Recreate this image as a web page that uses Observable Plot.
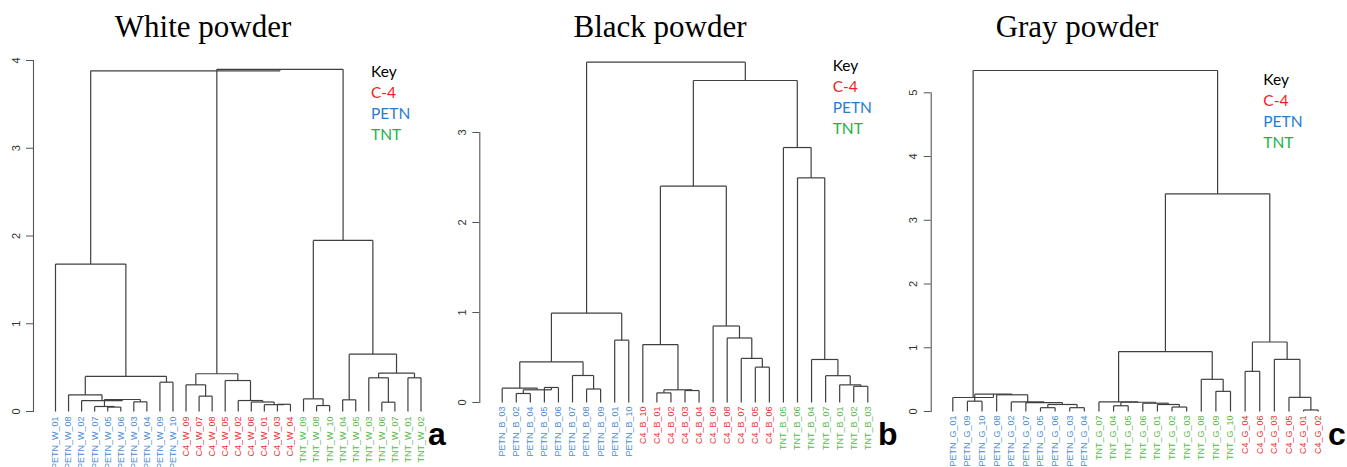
<!DOCTYPE html>
<html><head><meta charset="utf-8">
<script src="https://cdn.jsdelivr.net/npm/d3@7"></script>
<script src="https://cdn.jsdelivr.net/npm/@observablehq/plot@0.6"></script>
<style>
html,body{margin:0;padding:0;background:#fff;overflow:hidden;}
#root{position:relative;width:1347px;height:467px;}
.layer{position:absolute;left:0;top:0;}
.title{position:absolute;font-family:"Liberation Serif","Times New Roman",serif;font-size:31px;line-height:31px;color:#000;white-space:nowrap;transform:translateX(-50%);}
.key{position:absolute;font-family:Lato,"Open Sans",sans-serif;font-size:15.5px;line-height:21px;white-space:nowrap;}
.tag{position:absolute;font-family:"Liberation Sans",Arial,sans-serif;font-weight:bold;font-size:32px;line-height:32px;color:#000;}
</style></head><body><div id="root"></div>
<script>
// ---------- data ----------
const groups = ["C-4", "PETN", "TNT"];
const keyColors = ["#f21d1d", "#2a7bd0", "#1fb04a"];
const labelColors = ["#ef3030", "#4a8bd4", "#55b947"];
const titles = ["White powder", "Black powder", "Gray powder"];
const tags = ["a", "b", "c"];

// Panel a: White powder (leaf order as drawn)
const leavesA = ["PETN_W_01","PETN_W_08","PETN_W_02","PETN_W_07","PETN_W_05","PETN_W_06","PETN_W_03","PETN_W_04","PETN_W_09","PETN_W_10",
  "C4_W_09","C4_W_07","C4_W_08","C4_W_05","C4_W_02","C4_W_06","C4_W_01","C4_W_03","C4_W_04",
  "TNT_W_09","TNT_W_08","TNT_W_10","TNT_W_04","TNT_W_05","TNT_W_03","TNT_W_06","TNT_W_07","TNT_W_01","TNT_W_02"];
// merges: negative = leaf position, positive = earlier merge row (1-based)
const mergeA = [[-5,-6],[-4,1],[-7,-8],[2,3],[-3,4],[-2,5],[-9,-10],[6,7],[-1,8],
  [-18,-19],[-17,10],[-16,11],[-15,12],[-14,13],[-12,-13],[-11,15],[16,14],
  [-21,-22],[-20,18],[-23,-24],[-26,-27],[-25,21],[-28,-29],[22,23],[20,24],[19,25],
  [17,26],[9,27]];
const heightA = [0.05,0.057,0.11,0.137,0.125,0.19,0.334,0.40,1.68,
  0.082,0.078,0.108,0.125,0.353,0.175,0.304,0.43,
  0.068,0.144,0.133,0.106,0.384,0.384,0.437,0.653,1.95,
  3.90,3.882];

// Panel b: Black powder
const leavesB = ["PETN_B_03","PETN_B_02","PETN_B_04","PETN_B_05","PETN_B_06","PETN_B_07","PETN_B_08","PETN_B_09","PETN_B_01","PETN_B_10",
  "C4_B_10","C4_B_01","C4_B_02","C4_B_03","C4_B_04","C4_B_09","C4_B_08","C4_B_07","C4_B_05","C4_B_06",
  "TNT_B_05","TNT_B_06","TNT_B_04","TNT_B_07","TNT_B_01","TNT_B_02","TNT_B_03"];
const mergeB = [[-2,-3],[-4,-5],[1,2],[-1,3],[-7,-8],[-6,5],[4,6],[-9,-10],[7,8],
  [-12,-13],[-14,-15],[10,11],[-11,12],[-19,-20],[-18,14],[-17,15],[-16,16],[13,17],
  [-26,-27],[-25,19],[-24,20],[-23,21],[-22,22],[-21,23],
  [18,24],[9,25]];
const heightB = [0.10,0.167,0.141,0.159,0.15,0.30,0.452,0.693,0.993,
  0.107,0.133,0.141,0.644,0.393,0.49,0.717,0.85,2.404,
  0.18,0.196,0.298,0.478,2.496,2.833,
  3.578,3.781];

// Panel c: Gray powder
const leavesC = ["PETN_G_01","PETN_G_09","PETN_G_10","PETN_G_08","PETN_G_02","PETN_G_07","PETN_G_05","PETN_G_06","PETN_G_03","PETN_G_04",
  "TNT_G_07","TNT_G_04","TNT_G_05","TNT_G_06","TNT_G_01","TNT_G_02","TNT_G_03","TNT_G_08","TNT_G_09","TNT_G_10",
  "C4_G_04","C4_G_06","C4_G_03","C4_G_05","C4_G_01","C4_G_02"];
const mergeC = [[-2,-3],[-7,-8],[-9,-10],[2,3],[-6,4],[-5,5],[-4,6],[1,7],[-1,8],
  [-16,-17],[-15,10],[-14,11],[-12,-13],[13,12],[-11,14],[-19,-20],[-18,16],[15,17],
  [-21,-22],[-25,-26],[-24,20],[-23,21],[19,22],
  [18,23],[9,24]];
const heightC = [0.162,0.06,0.06,0.11,0.14,0.15,0.262,0.272,0.22,
  0.07,0.11,0.13,0.09,0.145,0.15,0.316,0.505,0.94,
  0.63,0.024,0.222,0.818,1.09,
  3.415,5.35];

const axisMax = [4, 3, 5];

// ---------- layout / style (page pixels) ----------
const frames = [
  {axis: 33, first: 55, last: 420.5, y0: 411, yTop: 60, labelDy: 5, title: 203, key: [371, 61], tag: [428, 418]},
  {axis: 479.3, first: 501.7, last: 867.3, y0: 402, yTop: 132, labelDy: 4, title: 660, key: [832.7, 54.5], tag: [878, 418]},
  {axis: 930.7, first: 952.3, last: 1317.7, y0: 411, yTop: 92.3, labelDy: 4, title: 1077, key: [1263.3, 68.5], tag: [1328, 418]}
];
const panels = [[leavesA, mergeA, heightA], [leavesB, mergeB, heightB], [leavesC, mergeC, heightC]];

function groupOf(name) {
  return name.startsWith("C4") ? "C-4" : name.startsWith("PETN") ? "PETN" : "TNT";
}

// R hclust-style rectangular dendrogram segments
function segments(merge, height) {
  const pos = [], segs = [];
  const node = i => i < 0 ? {x: -i, h: 0} : {x: pos[i - 1], h: height[i - 1]};
  merge.forEach(([a, b], k) => {
    const A = node(a), B = node(b), h = height[k];
    segs.push({x1: A.x, y1: A.h, x2: A.x, y2: h});
    segs.push({x1: B.x, y1: B.h, x2: B.x, y2: h});
    segs.push({x1: A.x, y1: h, x2: B.x, y2: h});
    pos.push((A.x + B.x) / 2);
  });
  return segs;
}

const root = document.getElementById("root");

panels.forEach(([leaves, merge, height], p) => {
  const F = frames[p];
  const segs = segments(merge, height);
  const chart = Plot.plot({
    width: 1347, height: 467,
    marginLeft: F.axis, marginRight: 0, marginTop: F.yTop, marginBottom: 467 - F.y0,
    style: {background: "transparent", overflow: "visible"},
    x: {domain: [1, leaves.length], range: [F.first, F.last], axis: null},
    y: {domain: [0, axisMax[p]], range: [F.y0, F.yTop], label: null},
    color: {domain: groups, range: labelColors},
    marks: [
      Plot.frame({anchor: "left", stroke: "#555", strokeWidth: 1.1}),
      Plot.axisY({ticks: d3.range(0, axisMax[p] + 1), tickFormat: d3.format("d"), tickSize: 7, tickRotate: -90, tickPadding: 7,
        label: null, fontSize: 11, fontFamily: "Liberation Sans, Arial, sans-serif", stroke: "#555", color: "#333"}),
      Plot.link(segs, {x1: "x1", y1: "y1", x2: "x2", y2: "y2", stroke: "#3f3f3f", strokeWidth: 1.2}),
      Plot.text(leaves, {x: (d, i) => i + 1, y: 0, text: d => d, rotate: -90, textAnchor: "end", lineAnchor: "middle",
        dy: F.labelDy, fill: d => groupOf(d), fontSize: 9, fontFamily: "Liberation Sans, Arial, sans-serif"})
    ]
  });
  chart.classList.add("layer");
  root.appendChild(chart);

  const t = document.createElement("div");
  t.className = "title"; t.textContent = titles[p];
  t.style.left = F.title + "px"; t.style.top = "11px";
  root.appendChild(t);

  const k = document.createElement("div");
  k.className = "key";
  k.style.left = F.key[0] + "px"; k.style.top = F.key[1] + "px";
  const kh = document.createElement("div"); kh.textContent = "Key"; kh.style.color = "#000"; k.appendChild(kh);
  groups.forEach((g, i) => {
    const d = document.createElement("div"); d.textContent = g; d.style.color = keyColors[i]; k.appendChild(d);
  });
  root.appendChild(k);

  const tg = document.createElement("div");
  tg.className = "tag"; tg.textContent = tags[p];
  tg.style.left = F.tag[0] + "px"; tg.style.top = F.tag[1] + "px";
  root.appendChild(tg);
});
</script></body></html>
